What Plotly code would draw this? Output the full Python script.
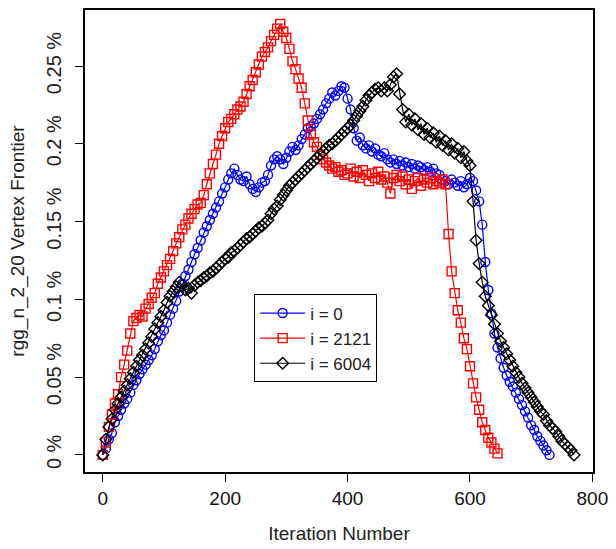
import plotly.graph_objects as go

# Iteration numbers (sampled every 5 iterations)
iters_blue = list(range(0, 735, 5))
iters_red = list(range(0, 650, 5))
iters_black = list(range(0, 775, 5))

# i = 0 (blue, circles) - vertex frontier in %
frontier_blue = [
    0.000, 0.004, 0.010, 0.014, 0.021, 0.025, 0.029, 0.033, 0.036, 0.040,
    0.045, 0.048, 0.052, 0.055, 0.058, 0.061, 0.064, 0.068, 0.073, 0.077,
    0.080, 0.085, 0.090, 0.094, 0.099, 0.105, 0.110, 0.115, 0.119, 0.124,
    0.129, 0.133, 0.138, 0.143, 0.147, 0.151, 0.155, 0.159, 0.163, 0.168,
    0.172, 0.177, 0.181, 0.184, 0.180, 0.177, 0.176, 0.179, 0.174, 0.171,
    0.169, 0.172, 0.175, 0.176, 0.180, 0.186, 0.190, 0.192, 0.190, 0.187,
    0.191, 0.195, 0.198, 0.196, 0.199, 0.203, 0.206, 0.210, 0.211, 0.213,
    0.216, 0.219, 0.222, 0.226, 0.229, 0.233, 0.231, 0.234, 0.237, 0.236,
    0.229, 0.222, 0.210, 0.202, 0.204, 0.199, 0.197, 0.199, 0.195, 0.197,
    0.193, 0.192, 0.194, 0.190, 0.188, 0.190, 0.187, 0.189, 0.186, 0.188,
    0.185, 0.187, 0.184, 0.186, 0.185, 0.183, 0.185, 0.182, 0.184, 0.181,
    0.180, 0.177, 0.176, 0.174, 0.177, 0.175, 0.173, 0.176, 0.172, 0.174,
    0.178, 0.176, 0.170, 0.163, 0.148, 0.124, 0.106, 0.091, 0.078, 0.069,
    0.062, 0.056, 0.051, 0.047, 0.044, 0.040, 0.036, 0.032, 0.028, 0.024,
    0.019, 0.016, 0.012, 0.009, 0.006, 0.003, 0.000,
]

# i = 2121 (red, squares)
frontier_red = [
    0.000, 0.008, 0.018, 0.026, 0.033, 0.039, 0.050, 0.058, 0.067, 0.078,
    0.086, 0.088, 0.090, 0.089, 0.094, 0.097, 0.101, 0.104, 0.110, 0.114,
    0.118, 0.122, 0.126, 0.131, 0.136, 0.140, 0.145, 0.148, 0.152, 0.155,
    0.158, 0.161, 0.162, 0.167, 0.174, 0.181, 0.187, 0.193, 0.200, 0.205,
    0.210, 0.214, 0.216, 0.219, 0.222, 0.224, 0.227, 0.232, 0.237, 0.241,
    0.246, 0.251, 0.256, 0.259, 0.262, 0.266, 0.270, 0.274, 0.277, 0.272,
    0.268, 0.261, 0.253, 0.248, 0.242, 0.236, 0.226, 0.215, 0.206, 0.201,
    0.198, 0.193, 0.190, 0.188, 0.186, 0.184, 0.185, 0.182, 0.183, 0.180,
    0.181, 0.184, 0.179, 0.182, 0.178, 0.183, 0.180, 0.176, 0.181, 0.178,
    0.182, 0.177, 0.179, 0.175, 0.168, 0.178, 0.180, 0.176, 0.179, 0.174,
    0.177, 0.171, 0.176, 0.178, 0.173, 0.177, 0.175, 0.178, 0.174, 0.176,
    0.175, 0.177, 0.174, 0.142, 0.118, 0.104, 0.093, 0.085, 0.075, 0.068,
    0.057, 0.046, 0.037, 0.029, 0.021, 0.016, 0.011, 0.008, 0.004, 0.001,
]

# i = 6004 (black, diamonds)
frontier_black = [
    0.000, 0.010, 0.018, 0.023, 0.029, 0.033, 0.037, 0.041, 0.045, 0.049,
    0.053, 0.057, 0.061, 0.064, 0.068, 0.072, 0.076, 0.081, 0.085, 0.089,
    0.093, 0.098, 0.102, 0.105, 0.108, 0.111, 0.109, 0.106, 0.107, 0.104,
    0.109, 0.111, 0.112, 0.114, 0.115, 0.117, 0.118, 0.120, 0.122, 0.124,
    0.126, 0.127, 0.130, 0.131, 0.133, 0.135, 0.137, 0.139, 0.140, 0.142,
    0.144, 0.146, 0.147, 0.149, 0.151, 0.155, 0.158, 0.160, 0.164, 0.167,
    0.170, 0.173, 0.175, 0.177, 0.179, 0.181, 0.183, 0.185, 0.187, 0.189,
    0.191, 0.193, 0.195, 0.197, 0.199, 0.200, 0.202, 0.204, 0.206, 0.208,
    0.210, 0.212, 0.215, 0.218, 0.221, 0.224, 0.228, 0.231, 0.233, 0.235,
    0.236, 0.234, 0.236, 0.234, 0.238, 0.243, 0.245, 0.232, 0.222, 0.214,
    0.219, 0.212, 0.216, 0.209, 0.213, 0.206, 0.210, 0.204, 0.207, 0.201,
    0.205, 0.199, 0.202, 0.196, 0.200, 0.194, 0.197, 0.191, 0.195, 0.189,
    0.186, 0.163, 0.138, 0.123, 0.111, 0.102, 0.096, 0.090, 0.084, 0.078,
    0.073, 0.069, 0.065, 0.061, 0.057, 0.053, 0.050, 0.046, 0.043, 0.040,
    0.037, 0.034, 0.031, 0.028, 0.026, 0.022, 0.019, 0.017, 0.015, 0.012,
    0.009, 0.007, 0.005, 0.003, 0.000,
]

series_names = ["i = 0", "i = 2121", "i = 6004"]
x_ticks = [0, 200, 400, 600, 800]
y_ticks = [0, 0.05, 0.10, 0.15, 0.20, 0.25]
y_tick_text = ["0 %", "0.05 %", "0.1 %", "0.15 %", "0.2 %", "0.25 %"]

FONT = "Liberation Sans, Arial, sans-serif"
TEXT = "#222222"

fig = go.Figure()
specs = [
    (iters_blue, frontier_blue, series_names[0], "#0000FF", "circle-open"),
    (iters_red, frontier_red, series_names[1], "#FF0000", "square-open"),
    (iters_black, frontier_black, series_names[2], "#000000", "diamond-open"),
]
for xs, ys, name, color, sym in specs:
    fig.add_trace(go.Scatter(
        x=xs, y=ys, name=name, mode="lines+markers",
        line=dict(color=color, width=1.2),
        marker=dict(symbol=sym, size=9, color=color, line=dict(width=1.4, color=color)),
    ))

fig.update_layout(
    width=616, height=549,
    margin=dict(l=85, r=11, t=8, b=74),
    paper_bgcolor="white", plot_bgcolor="white",
    font=dict(family=FONT, size=18, color=TEXT),
    showlegend=True,
    legend=dict(
        x=0.333, y=0.289, xanchor="left", yanchor="middle",
        bgcolor="white", bordercolor="#000000", borderwidth=1,
        font=dict(family=FONT, size=17, color=TEXT),
        tracegroupgap=0, itemwidth=45,
    ),
)
fig.update_xaxes(
    range=[-29, 801], tickvals=x_ticks, ticktext=[str(v) for v in x_ticks],
    showgrid=False, zeroline=False,
    showline=True, linecolor="#000000", linewidth=1.5, mirror=True,
    ticks="outside", ticklen=8, tickcolor="#000000", tickwidth=1.2,
    ticklabeloverflow="allow",
    tickfont=dict(family=FONT, size=19, color="#111111"),
    title=dict(text="Iteration Number", font=dict(family=FONT, size=19, color=TEXT), standoff=19),
)
fig.update_yaxes(
    range=[-0.011, 0.286], tickvals=y_ticks, ticktext=y_tick_text,
    showgrid=False, zeroline=False,
    showline=True, linecolor="#000000", linewidth=1.5, mirror=True,
    ticks="outside", ticklen=8, tickcolor="#000000", tickwidth=1.2,
    tickangle=-90, ticklabelstandoff=6,
    tickfont=dict(family=FONT, size=20, color=TEXT),
    title=dict(text="rgg_n_2_20 Vertex Frontier", font=dict(family=FONT, size=19, color=TEXT), standoff=14),
)

fig.write_html(
    "out.html",
    config={"displayModeBar": False},
    post_script="document.body.style.margin='0px';",
)
